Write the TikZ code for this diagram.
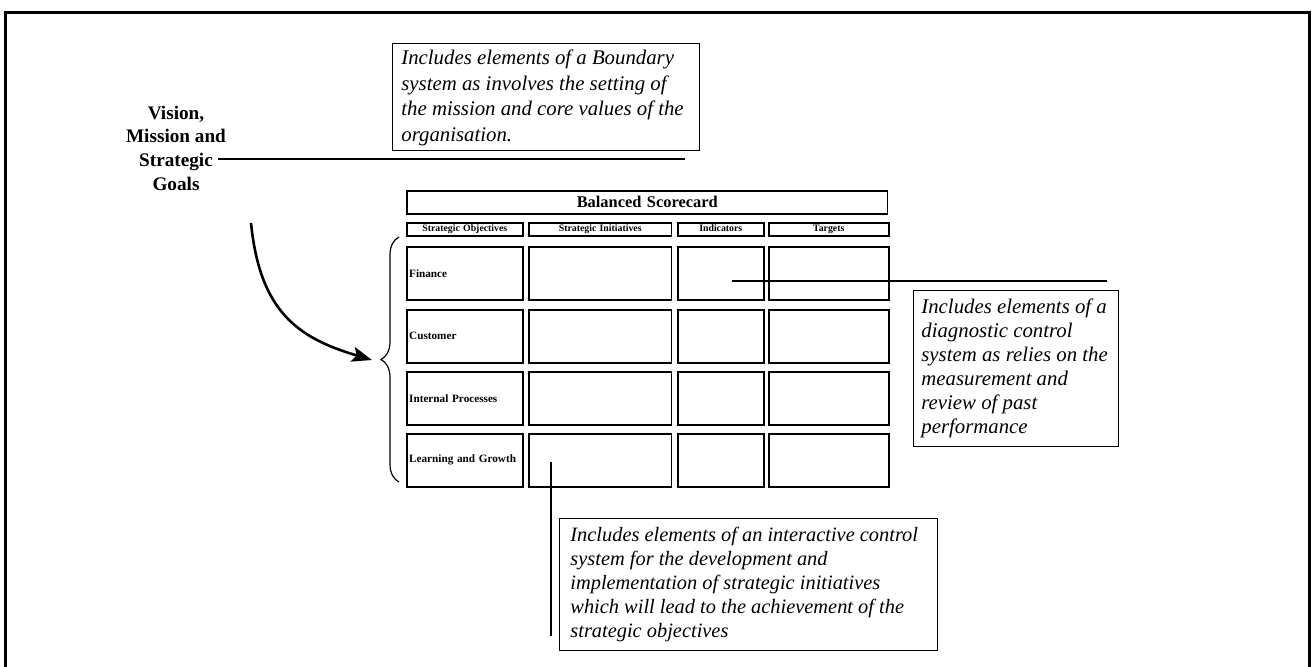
\documentclass[tikz,border=0pt]{standalone}
\usepackage{fontspec}
\setmainfont{Liberation Serif}
\usetikzlibrary{decorations.pathreplacing,arrows.meta}

\tikzset{
  frame/.style={draw, line width=1.5pt},
  notebox/.style={draw, line width=0.7pt, anchor=north west, inner sep=0pt},
  notetext/.style={anchor=west, align=left, inner sep=0pt},
  cell/.style={draw, line width=0.8pt, anchor=north west, align=left,
    inner xsep=1.2pt, inner ysep=0pt, font=\fontsize{5.6}{6.5}\selectfont\bfseries},
  head/.style={cell, align=center, text height=3.4pt, text depth=1.1pt,
    font=\fontsize{4.9}{5.5}\selectfont\bfseries},
  title/.style={cell, align=center, font=\fontsize{8.2}{9}\selectfont\bfseries},
  leader/.style={line width=0.6pt},
  bigarrow/.style={line width=1.3pt, -{Stealth[length=10pt,width=7.5pt,inset=2pt]}},
  curly/.style={line width=0.6pt, decorate, decoration={brace, amplitude=9pt}}
}

\begin{document}
\begin{tikzpicture}[x=0.5pt, y=-0.5pt]
\useasboundingbox (0,0) rectangle (1313,666);

% outer frame (its lower edge lies below the page)
\draw[frame] (5,12) rectangle (1309,700);

% left heading
\node[align=center, font=\fontsize{9.6}{11.85}\selectfont\bfseries] (vmsg) at (176,148)
  {Vision,\\Mission and\\Strategic\\Goals};
\coordinate (vline) at (218,159);
\coordinate (vend) at (685,159);
\draw[leader] (vline) -- (vend);

% boundary system note
\node[notebox, minimum width=153.5pt, minimum height=53.5pt] (bnd) at (392,43) {};
\node[notetext, font=\fontsize{10.4}{12.8}\selectfont\itshape] (bndtext) at (401,98)
  {Includes elements of a Boundary\\system as involves the setting of\\the mission and core values of the\\organisation.};

% scorecard title and column headings
\node[title, text width=238pt, minimum height=11.5pt] (bsc) at (406,190) {Balanced Scorecard};
\node[head, text width=55.6pt, minimum height=6.5pt] (h1) at (406,222) {Strategic Objectives};
\node[head, text width=69pt, minimum height=6.5pt] (h2) at (528,222) {Strategic Initiatives};
\node[head, text width=40.6pt, minimum height=6.5pt] (h3) at (677,222) {Indicators};
\node[head, text width=57.6pt, minimum height=6.5pt] (h4) at (768,222) {Targets};

% perspective rows
\foreach \r/\y/\lab in {1/246/Finance, 2/309/Customer, 3/371/Internal Processes, 4/433/Learning and Growth} {
  \node[cell, text width=55.6pt, minimum height=26.5pt] (r\r c1) at (406,\y) {\lab};
  \node[cell, text width=69pt, minimum height=26.5pt] (r\r c2) at (528,\y) {};
  \node[cell, text width=40.6pt, minimum height=26.5pt] (r\r c3) at (677,\y) {};
  \node[cell, text width=57.6pt, minimum height=26.5pt] (r\r c4) at (768,\y) {};
}

% brace gathering the four perspectives
\coordinate (brtop) at (399,237);
\coordinate (brbot) at (399,482);
\draw[curly] (brbot) -- (brtop);

% curved arrow from the heading to the brace
\coordinate (arrstart) at (251,223);
\coordinate (arrend) at (372,360);
\draw[bigarrow] (arrstart) .. controls (260,312) and (298,338) .. (arrend);

% diagnostic control note with its leader
\node[notebox, minimum width=102.5pt, minimum height=78pt] (diag) at (913,290) {};
\node[notetext, font=\fontsize{10.4}{12}\selectfont\itshape] (diagtext) at (921,368)
  {Includes elements of a\\diagnostic control\\system as relies on the\\measurement and\\review of past\\performance};
\coordinate (dstart) at (732,281);
\coordinate (dend) at (1107,281);
\draw[leader] (dstart) -- (dend);

% interactive control note with its leader
\node[notebox, minimum width=189pt, minimum height=66pt] (inter) at (559,518) {};
\node[notetext, font=\fontsize{10.2}{12}\selectfont\itshape] (intertext) at (570,584)
  {Includes elements of an interactive control\\system for the development and\\implementation of strategic initiatives\\which will lead to the achievement of the\\strategic objectives};
\coordinate (istart) at (551,462);
\coordinate (iend) at (551,636);
\draw[leader] (istart) -- (iend);
\end{tikzpicture}
\end{document}
